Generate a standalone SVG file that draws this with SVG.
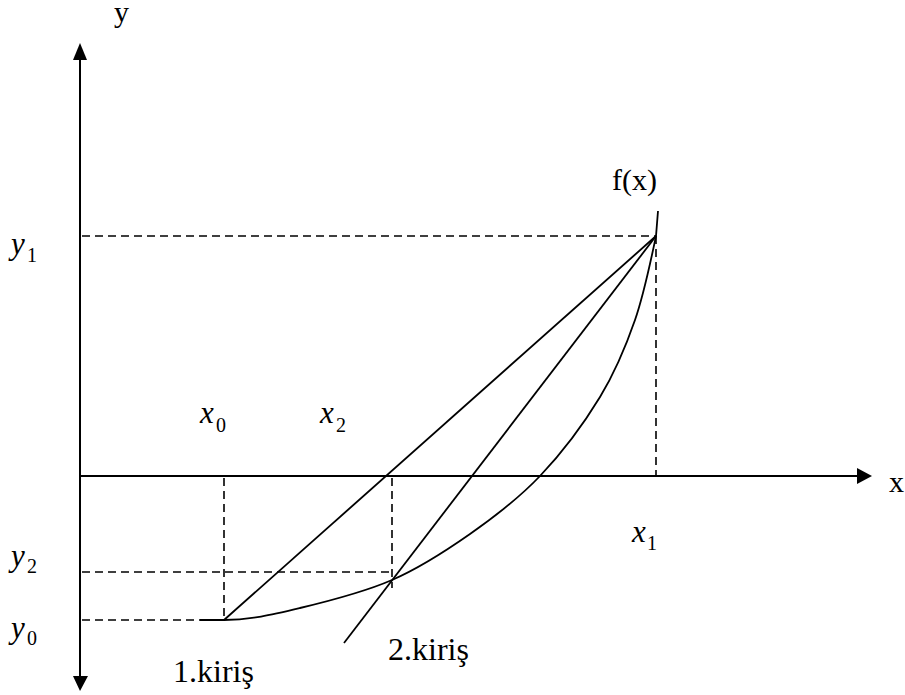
<svg xmlns="http://www.w3.org/2000/svg" width="905" height="695" viewBox="0 0 905 695">
<style>
.ax{stroke:#000;stroke-width:2;fill:none}
.ln{stroke:#000;stroke-width:1.8;fill:none}
.ds{stroke:#000;stroke-width:1.6;fill:none;stroke-dasharray:8 5}
text{font-family:'Liberation Serif','Times New Roman',Times,serif;fill:#000}
.t{font-size:30px}
.k{font-size:32px}
.v{font-size:31px;font-style:italic}
.s{font-size:20px}
</style>
<rect width="905" height="695" fill="#fff"/>
<g id="axes">
<line class="ax" x1="80" y1="58" x2="80" y2="678"/>
<polygon points="80,43 73,60 87,60" fill="#000"/>
<polygon points="80,691 73,676 88,676" fill="#000"/>
<line class="ax" x1="80" y1="476" x2="859" y2="476"/>
<polygon points="872,476 857,468 857,484" fill="#000"/>
</g>
<g id="guides">
<line class="ds" x1="82" y1="236" x2="656" y2="236"/>
<line class="ds" x1="656" y1="236" x2="656" y2="476"/>
<line class="ds" x1="82" y1="572" x2="392" y2="572"/>
<line class="ds" x1="392" y1="478" x2="392" y2="588"/>
<line class="ds" x1="82" y1="620" x2="204" y2="620"/>
<line class="ds" x1="224" y1="478" x2="224" y2="620"/>
</g>
<g id="curve">
<path class="ln" d="M200,620 L224,620 C250,620 272,614.7 300,608 C328,601.3 363.7,592.3 392,580 C420.3,567.7 445.3,551.3 470,534 C494.7,516.7 518.3,498.8 540,476 C561.7,453.2 584.2,423 600,397 C615.8,371 625.7,346.8 635,320 C644.3,293.2 652.2,254 656,236 L658,211"/>
</g>
<g id="connectors">
<line class="ln" x1="224" y1="620" x2="656" y2="236"/>
<line class="ln" x1="656" y1="236" x2="344" y2="643"/>
</g>
<g id="labels">
<text class="t" x="114" y="22">y</text>
<text class="t" x="889" y="492">x</text>
<text class="t" x="612" y="190">f(x)</text>
<text class="v" x="11" y="254">y</text><text class="s" x="27" y="262">1</text>
<text class="v" x="11" y="566">y</text><text class="s" x="27" y="573">2</text>
<text class="v" x="11" y="638">y</text><text class="s" x="27" y="645">0</text>
<text class="v" x="200" y="423">x</text><text class="s" x="216" y="432">0</text>
<text class="v" x="320" y="423">x</text><text class="s" x="336" y="432">2</text>
<text class="v" x="632" y="542">x</text><text class="s" x="647" y="550">1</text>
<text class="k" x="173" y="682">1.kiriş</text>
<text class="k" x="388" y="660">2.kiriş</text>
</g>
</svg>
